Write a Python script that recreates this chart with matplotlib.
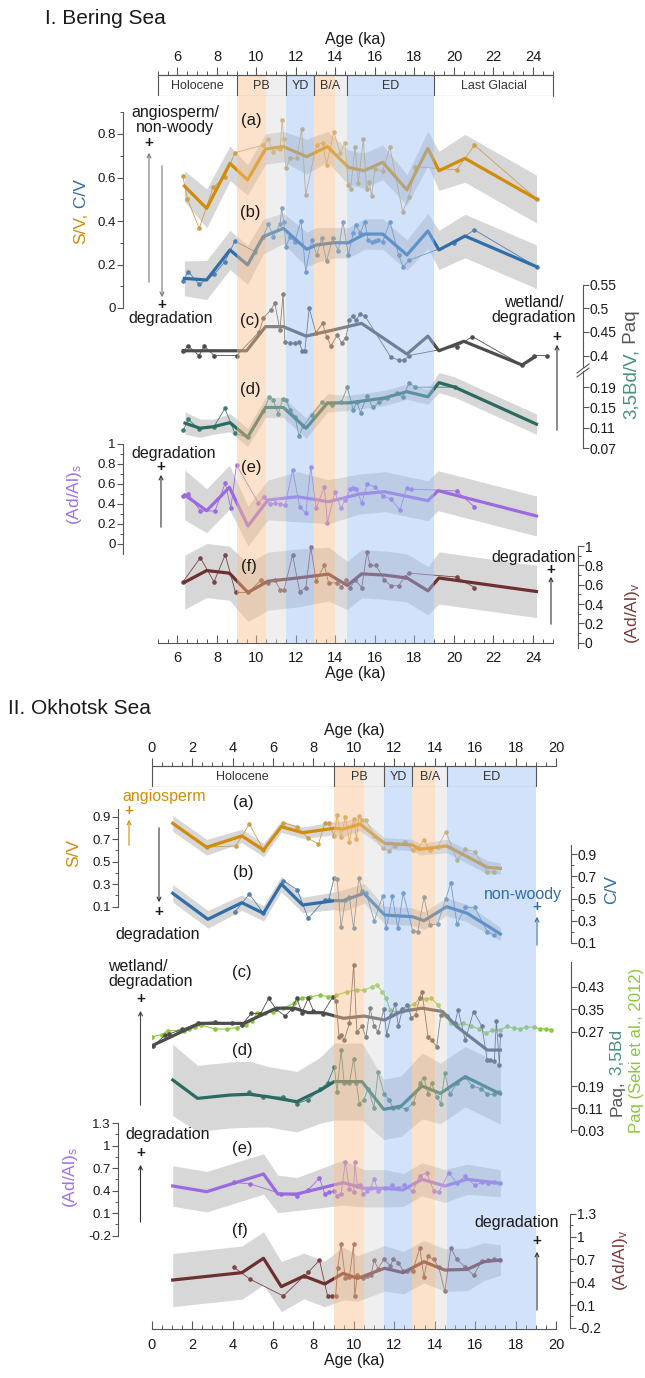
import numpy as np
import matplotlib
matplotlib.use("Agg")
import matplotlib.pyplot as plt
from matplotlib.patches import FancyArrowPatch, Rectangle
from matplotlib.lines import Line2D
from matplotlib.ticker import MultipleLocator, FuncFormatter

plt.rcParams["font.family"] = ["Liberation Sans", "DejaVu Sans"]
plt.rcParams["mathtext.fontset"] = "custom"
plt.rcParams["mathtext.rm"] = "Liberation Sans"
plt.rcParams["mathtext.it"] = "Liberation Sans:italic"

# periodos (ka)
orange_spans = [(9.0, 10.5), (12.9, 14.0)]
grey_spans = [(10.5, 11.5), (14.0, 14.6)]
blue_spans = [(11.5, 12.9), (14.6, 19.0)]
bering_periods = ["Holocene", "PB", "YD", "B/A", "ED", "Last Glacial"]
bering_edges = [5, 9, 11.5, 12.9, 14.6, 19, 25]
okhotsk_periods = ["Holocene", "PB", "YD", "B/A", "ED"]
okhotsk_edges = [0, 9, 11.5, 12.9, 14.6, 19]

# ---------------- I. Bering Sea ----------------
# (a) S/V
b_sv_age = [6.35, 7.48, 8.66, 9.55, 10.46, 11.36, 12.54, 13.6, 14.65, 15.44, 16.39, 17.62, 18.68, 19.24, 20.56, 24.18]
b_sv_val = [0.561, 0.458, 0.665, 0.589, 0.731, 0.742, 0.696, 0.742, 0.647, 0.631, 0.670, 0.543, 0.734, 0.631, 0.688, 0.501]
b_sv_err = [0.07, 0.09, 0.08, 0.07, 0.07, 0.07, 0.08, 0.07, 0.08, 0.08, 0.08, 0.07, 0.08, 0.09, 0.11, 0.11]
b_sv_raw_age = [6.27, 6.5, 7.1, 7.81, 8.4, 8.91, 10.34, 10.6, 10.85, 11.2, 11.3, 11.39, 11.49, 11.7, 12.03, 12.29, 12.49,
                13.05, 13.35, 13.55, 13.92, 14.23, 14.48, 14.65, 14.77, 14.99, 15.16, 15.41, 15.58, 15.71, 15.83, 16.0,
                16.39, 16.76, 17.4, 17.73, 18.05, 20.14, 21.04, 24.18]
b_sv_raw_val = [0.607, 0.503, 0.366, 0.555, 0.604, 0.714, 0.749, 0.776, 0.719, 0.730, 0.864, 0.776, 0.642, 0.688, 0.688,
                0.822, 0.520, 0.749, 0.760, 0.657, 0.811, 0.714, 0.757, 0.565, 0.546, 0.742, 0.576, 0.776, 0.546, 0.581,
                0.515, 0.638, 0.630, 0.739, 0.443, 0.509, 0.650, 0.635, 0.749, 0.501]
# (b) C/V
b_cv_age = [6.35, 7.48, 8.66, 9.55, 10.34, 11.36, 12.54, 13.05, 13.92, 14.65, 15.49, 16.39, 17.62, 18.68, 19.24, 20.56, 24.18]
b_cv_val = [0.136, 0.129, 0.267, 0.198, 0.328, 0.366, 0.270, 0.290, 0.300, 0.300, 0.340, 0.340, 0.244, 0.354, 0.267, 0.331, 0.190]
b_cv_err = [0.08, 0.09, 0.09, 0.09, 0.08, 0.07, 0.08, 0.08, 0.07, 0.07, 0.07, 0.07, 0.07, 0.08, 0.09, 0.10, 0.10]
b_cv_raw_age = [6.27, 6.55, 7.1, 7.86, 8.4, 8.91, 9.92, 10.34, 10.6, 10.85, 11.2, 11.27, 11.39, 11.49, 11.7, 11.94, 12.26,
                12.49, 12.8, 13.05, 13.3, 13.55, 13.86, 14.15, 14.38, 14.65, 14.9, 15.02, 15.26, 15.49, 15.65, 15.83,
                16.0, 16.17, 16.39, 16.76, 17.2, 17.43, 17.73, 20.0, 21.04, 24.18]
b_cv_raw_val = [0.124, 0.167, 0.109, 0.155, 0.213, 0.308, 0.259, 0.328, 0.386, 0.328, 0.386, 0.458, 0.397, 0.282, 0.328,
                0.305, 0.402, 0.167, 0.313, 0.244, 0.320, 0.216, 0.320, 0.264, 0.397, 0.244, 0.343, 0.382, 0.346, 0.397,
                0.313, 0.305, 0.308, 0.313, 0.305, 0.397, 0.244, 0.190, 0.220, 0.297, 0.359, 0.190]
# (c) Paq
b_paq_age = [6.3, 9.5, 10.46, 11.36, 12.51, 13.89, 15.32, 17.62, 18.68, 19.24, 20.5, 23.45, 24.1]
b_paq_val = [0.410, 0.410, 0.461, 0.461, 0.441, 0.454, 0.468, 0.403, 0.441, 0.410, 0.430, 0.380, 0.397]
b_paq_raw_age = [6.3, 6.55, 7.09, 7.36, 7.85, 9.0, 10.14, 10.35, 10.72, 10.93, 11.19, 11.35, 11.44, 11.7, 11.95, 12.15,
                 12.32, 12.45, 12.67, 13.01, 13.35, 13.55, 13.77, 14.09, 14.31, 14.53, 14.7, 14.87, 15.04, 15.24, 15.49,
                 16.79, 17.2, 17.47, 17.73, 20.14, 20.93, 23.45, 24.05, 24.72]
b_paq_raw_val = [0.41, 0.42, 0.40, 0.42, 0.40, 0.40, 0.45, 0.479, 0.496, 0.51, 0.454, 0.531, 0.429, 0.426, 0.426, 0.429,
                 0.41, 0.41, 0.50, 0.448, 0.468, 0.44, 0.42, 0.443, 0.427, 0.438, 0.474, 0.484, 0.474, 0.488, 0.484,
                 0.397, 0.39, 0.39, 0.40, 0.419, 0.44, 0.38, 0.40, 0.40]
# (d) 3,5Bd/V
b_bd_age = [6.38, 7.14, 7.81, 8.66, 9.55, 10.46, 11.36, 12.51, 13.6, 14.65, 16.39, 17.62, 18.68, 19.24, 20.04, 24.18]
b_bd_val = [0.119, 0.109, 0.112, 0.120, 0.091, 0.150, 0.150, 0.109, 0.159, 0.159, 0.168, 0.181, 0.171, 0.199, 0.190, 0.117]
b_bd_err = [0.022, 0.018, 0.015, 0.018, 0.018, 0.02, 0.02, 0.02, 0.018, 0.015, 0.015, 0.015, 0.015, 0.02, 0.02, 0.02]
b_bd_raw_age = [6.3, 6.55, 7.09, 7.85, 8.4, 8.91, 9.55, 10.35, 10.65, 10.85, 11.1, 11.32, 11.5, 11.7, 11.95, 12.15, 12.37,
                12.8, 13.3, 13.8, 14.3, 14.6, 14.9, 15.07, 15.27, 15.58, 15.9, 16.2, 16.59, 17.1, 17.4, 17.73, 18.05, 20.04]
b_bd_raw_val = [0.105, 0.127, 0.107, 0.112, 0.148, 0.099, 0.091, 0.142, 0.171, 0.165, 0.137, 0.166, 0.165, 0.145, 0.132,
                0.094, 0.113, 0.135, 0.16, 0.155, 0.16, 0.19, 0.145, 0.161, 0.14, 0.172, 0.15, 0.16, 0.168, 0.178, 0.17,
                0.198, 0.19, 0.19]
# (e) (Ad/Al)s
b_ads_age = [6.37, 7.48, 8.63, 9.57, 10.58, 12.08, 13.65, 15.22, 16.48, 18.68, 19.2, 24.18]
b_ads_val = [0.49, 0.333, 0.567, 0.18, 0.44, 0.473, 0.423, 0.5, 0.523, 0.433, 0.533, 0.28]
b_ads_err = [0.25, 0.22, 0.22, 0.2, 0.2, 0.25, 0.22, 0.2, 0.2, 0.2, 0.2, 0.2]
b_ads_raw_age = [6.28, 6.55, 7.16, 7.9, 8.42, 8.7, 8.99, 10.1, 10.37, 10.7, 10.95, 11.2, 11.45, 11.83, 12.19, 12.5, 12.75,
                 13.02, 13.44, 13.59, 13.97, 14.28, 14.49, 14.75, 14.9, 15.05, 15.33, 15.6, 16.02, 16.4, 16.8, 17.27,
                 17.6, 17.8, 20.14, 21.04]
b_ads_raw_val = [0.48, 0.50, 0.33, 0.33, 0.61, 0.36, 0.79, 0.41, 0.47, 0.40, 0.41, 0.40, 0.39, 0.74, 0.37, 0.31, 0.77,
                 0.36, 0.57, 0.21, 0.52, 0.36, 0.44, 0.55, 0.56, 0.55, 0.41, 0.60, 0.57, 0.48, 0.45, 0.34, 0.56, 0.55,
                 0.53, 0.37]
# (f) (Ad/Al)v
b_adv_age = [6.37, 7.48, 8.63, 9.57, 10.58, 12.08, 13.65, 14.6, 15.33, 16.48, 17.63, 18.68, 19.24, 24.18]
b_adv_val = [0.627, 0.747, 0.72, 0.52, 0.637, 0.67, 0.71, 0.593, 0.713, 0.70, 0.67, 0.537, 0.67, 0.53]
b_adv_err = [0.28, 0.28, 0.28, 0.3, 0.3, 0.3, 0.28, 0.25, 0.25, 0.25, 0.25, 0.25, 0.27, 0.27]
b_adv_raw_age = [6.28, 7.16, 7.85, 8.42, 8.94, 9.57, 10.25, 10.58, 10.93, 11.2, 11.4, 11.83, 12.19, 12.5, 12.75, 13.02,
                 13.44, 13.65, 14.1, 14.3, 14.55, 14.75, 15.0, 15.33, 15.6, 15.75, 16.05, 16.48, 16.8, 17.2, 17.5, 17.73,
                 20.14, 21.04]
b_adv_raw_val = [0.63, 0.88, 0.63, 0.91, 0.52, 0.52, 0.65, 0.62, 0.65, 0.55, 0.55, 0.91, 0.53, 0.57, 0.99, 0.64, 0.80,
                 0.62, 0.62, 0.58, 0.65, 0.57, 0.65, 0.57, 0.94, 0.80, 0.80, 0.65, 0.59, 0.59, 0.68, 0.72, 0.68, 0.57]

# ---------------- II. Okhotsk Sea ----------------
o_sv_age = [1.04, 2.72, 4.46, 5.53, 6.41, 7.47, 9.03, 9.47, 10.3, 11.52, 12.91, 13.25, 14.59, 15.61, 16.6, 17.25]
o_sv_val = [0.841, 0.628, 0.729, 0.604, 0.811, 0.758, 0.797, 0.79, 0.835, 0.663, 0.648, 0.61, 0.64, 0.545, 0.45, 0.441]
o_sv_err = [0.07, 0.07, 0.06, 0.06, 0.05, 0.05, 0.06, 0.07, 0.06, 0.05, 0.05, 0.05, 0.06, 0.06, 0.06, 0.05]
o_sv_raw_age = [2.72, 4.16, 4.83, 5.53, 6.51, 7.18, 7.74, 8.25, 8.56, 8.76, 9.03, 9.17, 9.37, 9.58, 9.78, 9.99, 10.13,
                10.25, 10.4, 10.6, 11.01, 11.42, 11.73, 12.03, 12.54, 12.91, 13.16, 13.47, 13.77, 14.14, 14.55, 15.1,
                15.51, 15.98, 16.6, 16.95]
o_sv_raw_val = [0.63, 0.64, 0.835, 0.604, 0.847, 0.811, 0.708, 0.657, 0.841, 0.84, 0.729, 0.915, 0.722, 0.90, 0.678,
                0.877, 0.699, 0.906, 0.87, 0.87, 0.73, 0.619, 0.598, 0.64, 0.678, 0.60, 0.62, 0.693, 0.60, 0.63, 0.767,
                0.515, 0.61, 0.59, 0.41, 0.41]
o_cv_age = [1.04, 2.78, 4.46, 5.53, 6.41, 7.47, 9.03, 9.47, 10.5, 11.52, 12.91, 13.47, 14.59, 15.61, 17.25]
o_cv_val = [0.547, 0.312, 0.462, 0.366, 0.631, 0.441, 0.48, 0.48, 0.547, 0.351, 0.335, 0.299, 0.426, 0.366, 0.179]
o_cv_err = [0.08, 0.08, 0.07, 0.07, 0.07, 0.07, 0.08, 0.10, 0.09, 0.08, 0.08, 0.08, 0.08, 0.08, 0.06]
o_cv_raw_age = [4.12, 4.83, 5.53, 6.51, 7.2, 7.74, 8.56, 8.76, 9.03, 9.17, 9.37, 9.58, 9.78, 9.99, 10.25, 10.4, 10.6,
                11.01, 11.42, 11.6, 11.9, 12.18, 12.44, 12.91, 13.16, 13.47, 13.77, 14.14, 14.55, 14.8, 15.1, 15.51,
                15.98, 16.6, 16.95]
o_cv_raw_val = [0.38, 0.54, 0.366, 0.66, 0.58, 0.32, 0.49, 0.49, 0.69, 0.68, 0.24, 0.49, 0.51, 0.23, 0.69, 0.57, 0.55,
                0.30, 0.52, 0.23, 0.52, 0.23, 0.55, 0.21, 0.20, 0.51, 0.26, 0.27, 0.50, 0.64, 0.27, 0.42, 0.42, 0.20, 0.17]
o_paq_age = [0.06, 2.37, 4.56, 6.16, 7.06, 7.74, 8.45, 9.48, 10.5, 11.52, 12.34, 13.37, 14.39, 15.1, 16.6, 17.25]
o_paq_val = [0.222, 0.30, 0.30, 0.354, 0.354, 0.338, 0.338, 0.318, 0.326, 0.312, 0.342, 0.354, 0.342, 0.288, 0.205, 0.205]
o_paq_raw_age = [0.08, 0.68, 0.86, 1.5, 2.31, 3.13, 3.95, 4.46, 4.93, 5.38, 5.79, 6.16, 6.6, 6.92, 7.18, 7.43, 7.74, 8.0,
                 8.45, 8.97, 9.12, 9.27, 9.37, 9.52, 9.78, 9.99, 10.15, 10.4, 10.6, 10.8, 11.0, 11.2, 11.48, 11.62,
                 11.85, 12.05, 12.2, 12.4, 12.65, 12.85, 13.05, 13.26, 13.37, 13.67, 13.85, 14.1, 14.3, 14.59, 15.0,
                 15.16, 15.51, 15.92, 16.33, 16.6, 16.75, 16.95, 17.05, 17.2, 17.25]
o_paq_raw_val = [0.22, 0.259, 0.262, 0.279, 0.302, 0.305, 0.30, 0.295, 0.336, 0.334, 0.389, 0.35, 0.326, 0.35, 0.389,
                 0.338, 0.389, 0.345, 0.335, 0.395, 0.38, 0.252, 0.26, 0.24, 0.30, 0.508, 0.27, 0.29, 0.25, 0.354, 0.29,
                 0.27, 0.35, 0.26, 0.33, 0.37, 0.29, 0.35, 0.365, 0.32, 0.33, 0.389, 0.413, 0.252, 0.24, 0.217, 0.33,
                 0.325, 0.30, 0.348, 0.24, 0.342, 0.29, 0.17, 0.17, 0.165, 0.31, 0.15, 0.26]
# Paq, Seki et al. (2012)
seki_age = [0.0, 0.5, 0.8, 1.3, 1.6, 1.86, 2.15, 2.46, 3.13, 3.74, 4.2, 4.66, 4.96, 5.22, 5.59, 5.98, 6.5, 7.06, 7.43,
            7.83, 8.35, 8.7, 9.12, 9.68, 10.18, 10.5, 10.9, 11.13, 11.4, 11.6, 11.8, 12.1, 12.4, 12.7, 13.0, 13.27,
            13.55, 13.84, 14.16, 14.48, 14.8, 15.1, 15.4, 15.8, 16.2, 16.54, 16.85, 17.25, 17.6, 17.9, 18.2, 18.5,
            18.9, 19.2, 19.5, 19.75]
seki_val = [0.252, 0.26, 0.274, 0.274, 0.272, 0.28, 0.287, 0.294, 0.28, 0.28, 0.285, 0.294, 0.31, 0.338, 0.338, 0.34,
            0.355, 0.371, 0.389, 0.395, 0.40, 0.395, 0.40, 0.413, 0.419, 0.418, 0.43, 0.437, 0.413, 0.389, 0.346, 0.34,
            0.345, 0.36, 0.37, 0.389, 0.387, 0.389, 0.365, 0.33, 0.30, 0.294, 0.30, 0.29, 0.28, 0.265, 0.275, 0.276,
            0.29, 0.283, 0.28, 0.286, 0.287, 0.28, 0.28, 0.278]
o_bd_age = [1.04, 2.27, 3.85, 4.83, 5.75, 7.18, 8.35, 9.03, 10.4, 11.48, 12.34, 13.37, 14.28, 15.51, 17.25]
o_bd_val = [0.212, 0.145, 0.157, 0.16, 0.151, 0.133, 0.175, 0.206, 0.206, 0.105, 0.117, 0.19, 0.163, 0.224, 0.161]
o_bd_err = [0.13, 0.12, 0.12, 0.12, 0.11, 0.11, 0.12, 0.14, 0.14, 0.11, 0.11, 0.12, 0.11, 0.11, 0.11]
o_bd_raw_age = [4.83, 5.5, 6.51, 7.18, 7.74, 8.35, 8.7, 9.03, 9.17, 9.37, 9.52, 9.78, 9.99, 10.13, 10.27, 10.5, 10.7,
                11.0, 11.2, 11.5, 11.75, 11.95, 12.2, 12.6, 12.95, 13.26, 13.47, 13.67, 13.85, 14.1, 14.3, 14.5, 14.75,
                15.1, 15.51, 15.85, 16.3, 16.6, 16.95, 17.2]
o_bd_raw_val = [0.168, 0.15, 0.15, 0.126, 0.14, 0.18, 0.2, 0.26, 0.17, 0.32, 0.2, 0.2, 0.29, 0.2, 0.126, 0.14, 0.18,
                0.11, 0.24, 0.16, 0.14, 0.11, 0.115, 0.105, 0.13, 0.2, 0.22, 0.16, 0.2, 0.15, 0.126, 0.236, 0.16, 0.2,
                0.224, 0.19, 0.18, 0.16, 0.16, 0.17]
o_ads_age = [1.04, 2.72, 5.53, 6.24, 7.18, 9.47, 10.5, 11.52, 12.44, 13.37, 14.5, 15.61, 17.25]
o_ads_val = [0.463, 0.387, 0.623, 0.356, 0.356, 0.507, 0.432, 0.432, 0.41, 0.552, 0.463, 0.552, 0.498]
o_ads_err = [0.27, 0.27, 0.27, 0.25, 0.22, 0.30, 0.25, 0.25, 0.22, 0.22, 0.22, 0.20, 0.18]
o_ads_raw_age = [4.06, 4.87, 6.41, 7.18, 7.74, 8.3, 8.56, 8.76, 9.03, 9.17, 9.37, 9.58, 9.78, 9.99, 10.04, 10.18, 10.3,
                 10.45, 10.65, 10.85, 11.0, 11.2, 11.52, 11.9, 12.18, 12.5, 12.91, 13.26, 13.6, 13.95, 14.2, 14.7, 15.1,
                 15.51, 15.98, 16.33, 16.65, 16.95, 17.25]
o_ads_raw_val = [0.51, 0.49, 0.36, 0.33, 0.41, 0.57, 0.36, 0.38, 0.40, 0.33, 0.36, 0.787, 0.42, 0.38, 0.787, 0.46, 0.48,
                 0.35, 0.40, 0.44, 0.56, 0.39, 0.43, 0.47, 0.43, 0.47, 0.39, 0.60, 0.64, 0.40, 0.38, 0.64, 0.50, 0.60,
                 0.47, 0.51, 0.50, 0.51, 0.50]
o_adv_age = [1.04, 4.46, 5.53, 6.41, 7.53, 8.56, 9.47, 10.18, 11.52, 12.44, 13.47, 14.5, 15.61, 16.43, 17.25]
o_adv_val = [0.43, 0.527, 0.716, 0.343, 0.483, 0.378, 0.518, 0.452, 0.584, 0.527, 0.671, 0.561, 0.57, 0.671, 0.693]
o_adv_err = [0.35, 0.35, 0.35, 0.33, 0.30, 0.30, 0.35, 0.30, 0.30, 0.28, 0.28, 0.28, 0.28, 0.25, 0.20]
o_adv_raw_age = [4.06, 4.87, 6.51, 7.53, 7.74, 8.3, 8.7, 8.9, 9.1, 9.2, 9.37, 9.58, 9.78, 9.99, 10.04, 10.18, 10.45,
                 10.65, 10.85, 11.0, 11.2, 11.48, 11.8, 11.95, 12.2, 12.44, 12.65, 12.91, 13.26, 13.47, 13.67, 13.95,
                 14.2, 14.5, 14.8, 15.1, 15.51, 15.92, 16.33, 16.65, 16.95, 17.25]
o_adv_raw_val = [0.60, 0.44, 0.22, 0.48, 0.53, 0.69, 0.22, 0.22, 0.22, 0.59, 0.904, 0.45, 0.47, 0.90, 0.22, 0.50, 0.45,
                 0.48, 0.50, 0.69, 0.58, 0.70, 0.62, 0.70, 0.66, 0.55, 0.55, 0.55, 0.85, 0.47, 0.74, 0.70, 0.60, 0.28,
                 0.85, 0.70, 0.60, 0.49, 0.68, 0.69, 0.70, 0.69]

# colores
C_SV, C_SV_T = "#d08c0a", "#c9a050"
C_CV, C_CV_T = "#2f6ea8", "#5080b0"
C_PAQ = "#4d4d4d"
C_BD, C_BD_T = "#2b6a60", "#3f7d72"
C_ADS = "#9b6ae0"
C_ADV, C_ADV_T = "#6e2f2f", "#7a4545"
C_SEKI = "#8dc63f"
AX_C = "#555555"
TXT_C = "#1a1a1a"

W, H = 645, 1378
fig = plt.figure(figsize=(W / 100, H / 100), dpi=100)

# posicion de cada panel (pixeles)
P1 = dict(x0=157.7, x1=552.7, box_top=75, box_bot=96, ybot=642.7, xlim=(5, 25))
P2 = dict(x0=151.7, x1=556.0, box_top=766, box_bot=787, ybot=1329.3, xlim=(0, 20))


def rect(x0, y0, x1, y1):
    return [x0 / W, 1 - y1 / H, (x1 - x0) / W, (y1 - y0) / H]


def fxy(x, y):
    return x / W, 1 - y / H


def ftext(x, y, s, **kw):
    kw.setdefault("ha", "center")
    kw.setdefault("va", "center")
    kw.setdefault("fontsize", 11.5)
    kw.setdefault("color", TXT_C)
    return fig.text(*fxy(x, y), s, **kw)


def arrow(x, y0, y1, color="#333333"):
    fig.add_artist(FancyArrowPatch(fxy(x, y0), fxy(x, y1), transform=fig.transFigure,
                                   arrowstyle="->", mutation_scale=7, lw=0.8, color=color))


def plus(x, y, color=TXT_C):
    ftext(x, y, "+", fontsize=11, fontweight="bold", color=color)


def vlabel(x, y_bottom, pieces, size):
    # etiqueta vertical con trozos de distinto color
    r = fig.canvas.get_renderer()
    y = y_bottom
    for s, c in pieces:
        t = ftext(x, y, s, rotation=90, color=c, fontsize=size, va="bottom")
        y -= t.get_window_extent(renderer=r).height


def shade(ax):
    for a, b in orange_spans:
        ax.axvspan(a, b, color="#f9c08a", alpha=0.45, lw=0)
    for a, b in grey_spans:
        ax.axvspan(a, b, color="#d9d9d9", alpha=0.4, lw=0)
    for a, b in blue_spans:
        ax.axvspan(a, b, color="#9dc0f5", alpha=0.45, lw=0)


def period_box(p, names, edges):
    ax = fig.add_axes(rect(p["x0"], p["box_top"], p["x1"], p["box_bot"]))
    ax.set_xlim(p["xlim"])
    ax.set_ylim(0, 1)
    for s in ("left", "right", "bottom"):
        ax.spines[s].set_visible(False)
    ax.spines["top"].set_color(AX_C)
    ax.spines["top"].set_linewidth(0.8)
    ax.set_yticks([])
    ax.xaxis.set_ticks_position("top")
    ax.xaxis.set_label_position("top")
    ax.xaxis.set_major_locator(MultipleLocator(2))
    ax.xaxis.set_minor_locator(MultipleLocator(0.5))
    ax.tick_params(axis="x", which="major", direction="out", length=6, width=0.8, color=AX_C,
                   labelsize=10.5, labelcolor=TXT_C, pad=2)
    ax.tick_params(axis="x", which="minor", direction="out", length=3, width=0.7, color=AX_C)
    ax.set_xlabel("Age (ka)", fontsize=11.5, labelpad=4, color=TXT_C)
    shade(ax)
    ax.add_patch(Rectangle((edges[0], 0), edges[-1] - edges[0], 1, fill=False, ec=AX_C, lw=0.8, clip_on=False))
    for e in edges[1:-1]:
        ax.plot([e, e], [0, 1], color=AX_C, lw=0.8)
    for n, a, b in zip(names, edges[:-1], edges[1:]):
        ax.text((a + b) / 2, 0.48, n, ha="center", va="center", fontsize=9, color="#333333")
    ax.patch.set_alpha(0)


def main_axes(p):
    ax = fig.add_axes(rect(p["x0"], p["box_bot"], p["x1"], p["ybot"]))
    ax.set_xlim(p["xlim"])
    ax.set_ylim(0, 1)
    for s in ("left", "right", "top"):
        ax.spines[s].set_visible(False)
    ax.spines["bottom"].set_color(AX_C)
    ax.spines["bottom"].set_linewidth(0.8)
    ax.set_yticks([])
    ax.xaxis.set_major_locator(MultipleLocator(2))
    ax.xaxis.set_minor_locator(MultipleLocator(0.5))
    ax.tick_params(axis="x", which="major", direction="in", length=6, width=0.8, color=AX_C,
                   labelsize=10.5, labelcolor=TXT_C, pad=6)
    ax.tick_params(axis="x", which="minor", direction="in", length=3, width=0.7, color=AX_C)
    ax.set_xlabel("Age (ka)", fontsize=11.5, labelpad=1, color=TXT_C)
    return ax


def value_axes(base, p, vref, pyref, ppu):
    # eje y propio para cada serie: vref en la fila pyref, ppu pixeles por unidad
    a = base.twinx()
    a.set_ylim(vref - (p["ybot"] - pyref) / ppu, vref + (pyref - p["box_bot"]) / ppu)
    for s in a.spines.values():
        s.set_visible(False)
    a.set_yticks([])
    return a


def show_axis(a, p, side, xpx, bounds, ticks, minor=True, size=9.5):
    sp = a.spines[side]
    sp.set_visible(True)
    sp.set_position(("axes", (xpx - p["x0"]) / (p["x1"] - p["x0"])))
    sp.set_bounds(*bounds)
    sp.set_color(AX_C)
    sp.set_linewidth(0.8)
    a.yaxis.set_ticks_position(side)
    a.set_yticks(ticks)
    if minor:
        a.set_yticks([(u + v) / 2 for u, v in zip(ticks[:-1], ticks[1:])], minor=True)
    a.yaxis.set_major_formatter(FuncFormatter(lambda v, pos: f"{v:g}"))
    a.tick_params(axis="y", which="major", direction="out", length=4, width=0.8, color=AX_C,
                  labelcolor=TXT_C, labelsize=size, pad=1)
    a.tick_params(axis="y", which="minor", direction="out", length=2.5, width=0.7, color=AX_C)


def draw_series(a, age, val, err, raw_age, raw_val, color, thin):
    if err is not None:
        lo = np.array(val) - np.array(err)
        hi = np.array(val) + np.array(err)
        a.fill_between(age, lo, hi, color="#bdbdbd", alpha=0.6, lw=0, zorder=1)
    a.plot(raw_age, raw_val, color=thin, lw=0.6, marker="o", ms=2.3, zorder=2)
    a.plot(age, val, color=color, lw=2.3, zorder=3)


def main():
    # ---------- I. Bering Sea ----------
    ftext(45, 18, "I. Bering Sea", fontsize=15, ha="left")
    period_box(P1, bering_periods, bering_edges)
    m1 = main_axes(P1)

    a_v = value_axes(m1, P1, 0.0, 308, 217.5)
    draw_series(a_v, b_sv_age, b_sv_val, b_sv_err, b_sv_raw_age, b_sv_raw_val, C_SV, C_SV_T)
    draw_series(a_v, b_cv_age, b_cv_val, b_cv_err, b_cv_raw_age, b_cv_raw_val, C_CV, C_CV_T)
    show_axis(a_v, P1, "left", 122.5, (0, 0.9), [0, 0.2, 0.4, 0.6, 0.8])
    a_v.set_yticks([0.1, 0.3, 0.5, 0.7, 0.9], minor=True)

    a_paq = value_axes(m1, P1, 0.4, 355.5, 473)
    draw_series(a_paq, b_paq_age, b_paq_val, None, b_paq_raw_age, b_paq_raw_val, C_PAQ, C_PAQ)
    show_axis(a_paq, P1, "right", 583, (0.376, 0.55), [0.4, 0.45, 0.5, 0.55], minor=False, size=10)

    a_bd = value_axes(m1, P1, 0.07, 448, 507)
    draw_series(a_bd, b_bd_age, b_bd_val, b_bd_err, b_bd_raw_age, b_bd_raw_val, C_BD, C_BD_T)
    show_axis(a_bd, P1, "right", 583, (0.07, 0.222), [0.07, 0.11, 0.15, 0.19], minor=False, size=10)

    a_ads = value_axes(m1, P1, 0.0, 544, 100)
    draw_series(a_ads, b_ads_age, b_ads_val, b_ads_err, b_ads_raw_age, b_ads_raw_val, C_ADS, C_ADS)
    show_axis(a_ads, P1, "left", 122.5, (-0.1, 1.0), [0, 0.2, 0.4, 0.6, 0.8, 1.0])

    a_adv = value_axes(m1, P1, 0.0, 662, 100)
    draw_series(a_adv, b_adv_age, b_adv_val, b_adv_err, b_adv_raw_age, b_adv_raw_val, C_ADV, C_ADV_T)
    show_axis(a_adv, P1, "right", 578, (-0.06, 1.0), [0, 0.2, 0.4, 0.6, 0.8, 1.0], size=10)

    ov1 = m1.twinx()
    ov1.set_ylim(0, 1)
    ov1.axis("off")
    shade(ov1)

    # marca de corte del eje derecho
    for dy in (0, 4):
        fig.add_artist(Line2D([577 / W, 589 / W], [1 - (373 + dy) / H, 1 - (364 + dy) / H],
                              color=AX_C, lw=0.8))

    vlabel(81, 244, [("S/V,", C_SV), (" C/V", C_CV)], 12.5)
    vlabel(631, 419, [("3,5Bd/V,", "#4a8e82"), (" Paq", "#555555")], 13.5)
    ftext(74, 495, r"(Ad/Al)$_\mathrm{s}$", rotation=90, color="#a070e0", fontsize=12.5)
    ftext(632, 613, r"(Ad/Al)$_\mathrm{v}$", rotation=90, color="#7a3a3a", fontsize=12.5)

    for s, x, y in [("(a)", 251, 120), ("(b)", 250, 212), ("(c)", 250, 320),
                    ("(d)", 250, 390), ("(e)", 251, 468), ("(f)", 249, 567)]:
        ftext(x, y, s, fontsize=12)

    ftext(175, 120, "angiosperm/\nnon-woody", linespacing=1.0)
    plus(149, 143)
    arrow(149, 285, 150, "#777777")
    arrow(162, 163, 300, "#777777")
    plus(162, 305)
    ftext(171, 318, "degradation")
    ftext(534, 310, "wetland/\ndegradation", linespacing=1.0)
    plus(557, 337)
    arrow(557, 433, 342)
    ftext(174, 453, "degradation")
    plus(161, 467)
    arrow(161, 530, 472)
    ftext(534, 558, "degradation")
    plus(551, 570)
    arrow(551, 627, 574)

    # ---------- II. Okhotsk Sea ----------
    ftext(8, 708, "II. Okhotsk Sea", fontsize=15, ha="left")
    period_box(P2, okhotsk_periods, okhotsk_edges)
    m2 = main_axes(P2)

    o_v = value_axes(m2, P2, 0.9, 816.7, 112.5)
    draw_series(o_v, o_sv_age, o_sv_val, o_sv_err, o_sv_raw_age, o_sv_raw_val, C_SV, C_SV_T)
    show_axis(o_v, P2, "left", 117.8, (0.1, 0.97), [0.1, 0.3, 0.5, 0.7, 0.9])

    o_c = value_axes(m2, P2, 0.9, 854.3, 110.5)
    draw_series(o_c, o_cv_age, o_cv_val, o_cv_err, o_cv_raw_age, o_cv_raw_val, C_CV, C_CV_T)
    show_axis(o_c, P2, "right", 570.5, (0.1, 0.98), [0.1, 0.3, 0.5, 0.7, 0.9], size=10)

    o_bd = value_axes(m2, P2, 0.11, 1108, 275)
    draw_series(o_bd, o_bd_age, o_bd_val, o_bd_err, o_bd_raw_age, o_bd_raw_val, C_BD, C_BD_T)
    show_axis(o_bd, P2, "right", 570.5, (0.024, 0.339), [0.03, 0.11, 0.19], minor=False, size=10)

    o_paq = value_axes(m2, P2, 0.35, 1009.3, 281)
    o_paq.plot(seki_age, seki_val, color=C_SEKI, lw=0.8, marker="o", ms=2.3, zorder=2)
    draw_series(o_paq, o_paq_age, o_paq_val, None, o_paq_raw_age, o_paq_raw_val, C_PAQ, C_PAQ)
    show_axis(o_paq, P2, "right", 570.5, (0.223, 0.52), [0.27, 0.35, 0.43], minor=False, size=10)

    o_ads = value_axes(m2, P2, 0.4, 1190.7, 75)
    draw_series(o_ads, o_ads_age, o_ads_val, o_ads_err, o_ads_raw_age, o_ads_raw_val, C_ADS, C_ADS)
    show_axis(o_ads, P2, "left", 117.8, (-0.2, 1.3), [-0.2, 0.1, 0.4, 0.7, 1.0, 1.3])

    o_adv = value_axes(m2, P2, 0.4, 1282.3, 76)
    draw_series(o_adv, o_adv_age, o_adv_val, o_adv_err, o_adv_raw_age, o_adv_raw_val, C_ADV, C_ADV_T)
    show_axis(o_adv, P2, "right", 570.0, (-0.2, 1.3), [-0.2, 0.1, 0.4, 0.7, 1.0, 1.3], size=10)

    ov2 = m2.twinx()
    ov2.set_ylim(0, 1)
    ov2.axis("off")
    shade(ov2)

    ftext(74, 853, "S/V", rotation=90, color=C_SV, fontsize=12.5)
    ftext(612, 889, "C/V", rotation=90, color=C_CV, fontsize=12.5)
    vlabel(617, 1116, [("Paq,", "#555555"), (" 3,5Bd", "#4a8e82")], 12.5)
    ftext(636.5, 1050, "Paq (Seki et al., 2012)", rotation=90, color=C_SEKI, fontsize=12)
    ftext(70, 1178, r"(Ad/Al)$_\mathrm{s}$", rotation=90, color="#a070e0", fontsize=12.5)
    ftext(620, 1260, r"(Ad/Al)$_\mathrm{v}$", rotation=90, color="#7a3a3a", fontsize=12.5)

    for s, x, y in [("(a)", 243, 802), ("(b)", 243, 872), ("(c)", 242, 972),
                    ("(d)", 242, 1050), ("(e)", 242, 1148), ("(f)", 240, 1230)]:
        ftext(x, y, s, fontsize=12)

    ftext(164, 797, "angiosperm", color=C_SV)
    plus(129, 811, C_SV)
    arrow(129, 848, 817, C_SV)
    arrow(159, 825, 905)
    plus(159, 912)
    ftext(158, 934, "degradation")
    ftext(523, 895, "non-woody", color=C_CV)
    plus(537, 907, C_CV)
    arrow(537, 948, 914, C_CV)
    ftext(108, 974, "wetland/\ndegradation", ha="left", linespacing=1.0)
    plus(140.5, 999)
    arrow(140.5, 1108, 1008, "#444444")
    ftext(167.5, 1135, "degradation")
    plus(140.5, 1153)
    arrow(140.5, 1225, 1162)
    ftext(516.5, 1223, "degradation")
    plus(537, 1241)
    arrow(537, 1313, 1249)

    fig.savefig("out.png", dpi=100)


if __name__ == "__main__":
    main()
